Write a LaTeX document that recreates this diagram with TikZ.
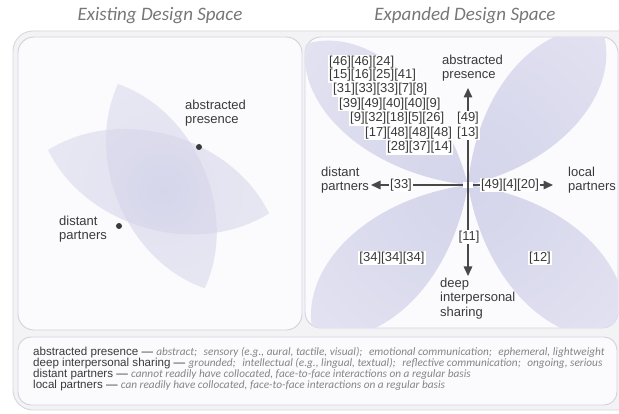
\documentclass[tikz,border=0pt]{standalone}
\usepackage{fontspec}
\setmainfont{Liberation Sans}
\newfontfamily\humfont{Carlito}
\usetikzlibrary{arrows.meta}

\definecolor{ink}{HTML}{3A3A3A}
\definecolor{arrowcol}{HTML}{484848}
\definecolor{titlegray}{HTML}{777777}
\definecolor{notegray}{HTML}{858585}
\definecolor{framefill}{HTML}{F3F3F6}
\definecolor{frameline}{HTML}{D6D6DE}
\definecolor{panelfill}{HTML}{FBFBFD}
\definecolor{panelline}{HTML}{D2D2DE}
\definecolor{petalin}{HTML}{D4D4EB}
\definecolor{petalmid}{HTML}{E4E4F2}
\definecolor{petalout}{HTML}{F8F8FC}
\definecolor{leafin}{HTML}{D0D0E8}
\definecolor{leafout}{HTML}{FBFBFD}

% soft lavender glow used to fill the petals
\pgfdeclareradialshading{petalglow}{\pgfpointorigin}{%
  color(0bp)=(petalin); color(22bp)=(petalmid); color(50bp)=(petalout)}
\pgfdeclareradialshading{leafglow}{\pgfpointorigin}{%
  color(0bp)=(leafin); color(20bp)=(leafin!70!leafout); color(50bp)=(leafout)}

% lens-shaped petal: origin tip at (0,0), far tip at (#1,0), half width #2
\newcommand\petalpath[2]{%
  (0,0) .. controls (0.40*#1, 1.40*#2) and (0.85*#1, 1.25*#2) .. (#1,0)
        .. controls (0.85*#1,-1.25*#2) and (0.40*#1,-1.40*#2) .. (0,0)}
\newcommand\leafpath[2]{%
  (0,0) .. controls (0.25*#1, 1.33*#2) and (0.75*#1, 1.33*#2) .. (#1,0)
        .. controls (0.75*#1,-1.33*#2) and (0.25*#1,-1.33*#2) .. (0,0)}

\tikzset{
  panelbox/.style={draw=panelline, fill=panelfill, line width=0.9pt, rounded corners=16pt},
  lbl/.style={font=\fontsize{13}{14.2}\selectfont, text=ink, align=left, inner sep=0pt},
  cite/.style={font=\fontsize{13}{14.2}\selectfont, text=ink, fill=white, inner sep=1pt},
  axisarrow/.style={draw=arrowcol, line width=1.5pt, -{Triangle[length=9.5pt,width=8.5pt]}},
  title/.style={font=\humfont\itshape\fontsize{19}{22}\selectfont, text=titlegray},
  legend/.style={font=\fontsize{11.6}{12}\selectfont, text=ink, inner sep=0pt, anchor=west},
  dot/.style={circle, fill=ink, minimum size=6pt, inner sep=0pt}
}
\newcommand\legit{\humfont\itshape\fontsize{11.3}{12}\selectfont\color{notegray}}

\begin{document}
\begin{tikzpicture}[x=1pt,y=-1pt]
\useasboundingbox (0,0) rectangle (619,414);
\fill[white] (0,0) rectangle (619,414);

% outer frame and the three boxes
\draw[draw=frameline, fill=framefill, line width=0.9pt, rounded corners=20pt]
  (13,31) rectangle (640,410);
\draw[panelbox] (18,37) rectangle (302,330);
\draw[panelbox] (305,37) rectangle (618,328);
\draw[panelbox, rounded corners=13pt] (18,337) rectangle (617,405);

% titles
\node[title] (t1) at (160,16) {Existing Design Space};
\node[title] (t2) at (465,16) {Expanded Design Space};

% ---------- left panel: two overlapping petals ----------
\begin{scope}
  \clip[rounded corners=16pt] (18,37) rectangle (302,330);
  \begin{scope}[shift={(118,84)}, rotate=-67]
    \clip \leafpath{222}{46};
    \shade[shading=leafglow, opacity=0.6, rotate=67] (45,106) circle (170);
  \end{scope}
  \begin{scope}[shift={(48,150)}, rotate=-16]
    \clip \leafpath{230}{48};
    \shade[shading=leafglow, opacity=0.6, rotate=16] (115,40) circle (170);
  \end{scope}
\end{scope}

\node[lbl, anchor=west] (apL) at (185,113.5) {abstracted\\presence};
\node[dot] (apDot) at (199,147) {};
\node[lbl, anchor=west] (dpL) at (59,229) {distant\\partners};
\node[dot] (dpDot) at (119,226) {};

% ---------- right panel: four petals round the centre ----------
\coordinate (c) at (468,185);
\begin{scope}
  \clip[rounded corners=16pt] (305,37) rectangle (618,328);
  \foreach \ang/\len/\wid in {139/215/42, 49/205/42, 224/215/45, 316/215/45}{
    \begin{scope}[shift={(c)}, rotate=\ang]
      \clip \petalpath{\len}{\wid};
      \shade[shading=petalglow] (0,0) circle (250);
    \end{scope}
  }
\end{scope}

% axis end points
\coordinate (upTip) at (468,88);
\coordinate (downTip) at (468,276);
\coordinate (leftTip) at (371,185);
\coordinate (rightTip) at (553,185);

\draw[axisarrow] (c) -- (leftTip);
\draw[axisarrow] (c) -- (rightTip);
% the vertical axis passes over a small gap in the horizontal one
\fill[white] ([xshift=-5pt,yshift=-3pt]c) rectangle ([xshift=5pt,yshift=3pt]c);
\draw[axisarrow] (c) -- (upTip);
\draw[axisarrow] (c) -- (downTip);

% axis labels
\node[lbl, anchor=west] (ap) at (442,68.5) {abstracted\\presence};
\node[lbl, anchor=west] (dist) at (321,180.5) {distant\\partners};
\node[lbl, anchor=west] (loc) at (568,180.5) {local\\partners};
\node[lbl, anchor=west, font=\fontsize{13}{14.5}\selectfont] (deep) at (440,298.5)
  {deep\\interpersonal\\sharing};

% citations in the upper-left quadrant
\node[cite, anchor=west] (r1) at (328,62)  {[46][46][24]};
\node[cite, anchor=west] (r2) at (328,75.5)  {[15][16][25][41]};
\node[cite, anchor=west] (r3) at (332,89.5)  {[31][33][33][7][8]};
\node[cite, anchor=west] (r4) at (338,104) {[39][49][40][40][9]};
\node[cite, anchor=west] (r5) at (349,118.5) {[9][32][18][5][26]};
\node[cite, anchor=west] (r6) at (364,133) {[17][48][48][48]};
\node[cite, anchor=west] (r7) at (386,147.5) {[28][37][14]};

% citations on the axes and in the other quadrants
\node[cite] (cU1) at (468,118.5) {[49]};
\node[cite] (cU2) at (468,133) {[13]};
\node[cite] (cL)  at (401,185) {[33]};
\node[cite] (cR)  at (510,185) {[49][4][20]};
\node[cite] (cD)  at (469,237) {[11]};
\node[cite] (cLL) at (392,258) {[34][34][34]};
\node[cite] (cLR) at (540,258) {[12]};

% ---------- legend ----------
\node[legend] (l1) at (33,352.7) {abstracted presence — {\legit abstract;\hspace{4pt} sensory (e.g., aural, tactile, visual);\hspace{4pt} emotional communication;\hspace{4pt} ephemeral, lightweight}};
\node[legend] (l2) at (33,363.7) {deep interpersonal sharing — {\legit grounded;\hspace{4pt} intellectual (e.g., lingual, textual);\hspace{4pt} reflective communication;\hspace{4pt} ongoing, serious}};
\node[legend] (l3) at (33,374.5) {distant partners — {\legit cannot readily have collocated, face-to-face interactions on a regular basis}};
\node[legend] (l4) at (33,385.7) {local partners — {\legit can readily have collocated, face-to-face interactions on a regular basis}};
\end{tikzpicture}
\end{document}
